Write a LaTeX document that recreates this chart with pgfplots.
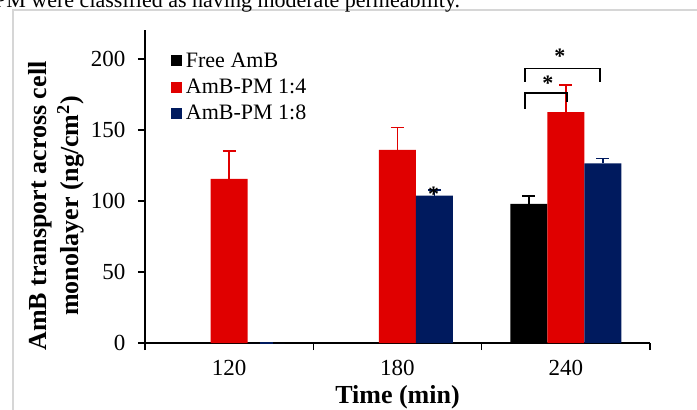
\documentclass[border=0pt]{standalone}
\usepackage{fontspec}
\setmainfont{Liberation Serif}
\usepackage{pgfplots}
\pgfplotsset{compat=1.18}
\definecolor{cred}{RGB}{224,0,0}
\definecolor{cnavy}{RGB}{0,26,94}
\definecolor{framegray}{RGB}{214,214,214}
\begin{document}
\begin{tikzpicture}
\draw[framegray, line width=2pt] (13pt,-410pt) -- (13pt,-10pt) -- (697pt,-10pt);
\node[anchor=base west, inner sep=0pt, font=\fontsize{22}{26}\selectfont] at (-6pt,-7pt) {PM were classified as having moderate permeability.};
\begin{axis}[
  at={(145pt,-343pt)}, anchor=south west,
  scale only axis, width=505pt, height=313pt,
  xmin=-0.5, xmax=2.5, ymin=0, ymax=220.4,
  axis x line=bottom, axis y line=left,
  axis line style={-, line width=1.2pt, black},
  ybar=0pt, bar width=37pt,
  xtick={-0.5,0.5,1.5,2.5}, xticklabels={},
  extra x ticks={0,1,2}, extra x tick labels={120,180,240},
  extra x tick style={major tick length=0pt, xticklabel style={yshift=-14pt}},
  ytick={0,50,100,150,200},
  yticklabel style={xshift=-9pt},
  tick align=outside, major tick length=7pt,
  tick style={line width=1.2pt, black},
  ticklabel style={font=\fontsize{23}{27}\selectfont},
  /pgf/number format/assume math mode=true,
  legend style={at={(rel axis cs:0.045,0.94)}, anchor=north west, draw=none, fill=none,
    font=\fontsize{22}{26}\selectfont, row sep=6pt, nodes={inner xsep=4pt}},
  legend cell align=left,
  legend image code/.code={\fill[#1] (0pt,-5.5pt) rectangle (11pt,5.5pt);},
  clip=false,
]
\addplot[fill=black, draw=none, error bars/.cd, y dir=plus, y explicit,
  error bar style={draw=black, line width=1.5pt},
  error mark options={rotate=90, mark size=6.5pt, line width=1.5pt, draw=black}]
  coordinates {(0,0) +- (0,0) (1,0) +- (0,0) (2,97.9) +- (0,5.6)};
\addplot[fill=cred, draw=none, error bars/.cd, y dir=plus, y explicit,
  error bar style={draw=cred, line width=1.5pt},
  error mark options={rotate=90, mark size=6.5pt, line width=1.5pt, draw=cred}]
  coordinates {(0,115.5) +- (0,19.7) (1,136) +- (0,15.9) (2,162.5) +- (0,19.2)};
\addplot[fill=cnavy, draw=none, error bars/.cd, y dir=plus, y explicit,
  error bar style={draw=cnavy, line width=1.5pt},
  error mark options={rotate=90, mark size=6.5pt, line width=1.5pt, draw=cnavy}]
  coordinates {(0,0) +- (0,0) (1,103.7) +- (0,4) (2,126.5) +- (0,3.3)};
\legend{Free AmB, AmB-PM 1:4, AmB-PM 1:8}
\draw[black, line width=1.5pt] (axis cs:1.756,164.8) -- (axis cs:1.756,176) -- (axis cs:2.006,176) -- (axis cs:2.006,170);
\draw[black, line width=1.5pt] (axis cs:1.756,183.8) -- (axis cs:1.756,193.4) -- (axis cs:2.202,193.4) -- (axis cs:2.202,183.8);
\node[font=\bfseries\fontsize{22}{22}\selectfont, inner sep=0pt] at (axis cs:1.893,183) {*};
\node[font=\bfseries\fontsize{22}{22}\selectfont, inner sep=0pt] at (axis cs:1.964,202) {*};
\node[font=\bfseries\fontsize{22}{22}\selectfont, inner sep=0pt] at (axis cs:1.214,105) {*};
\end{axis}
\node[rotate=90, align=center, font=\bfseries\fontsize{26}{32}\selectfont] at (56pt,-206pt) {AmB transport across cell\\monolayer (ng/cm\textsuperscript{2})};
\node[font=\bfseries\fontsize{26}{30}\selectfont] at (397.5pt,-397pt) {Time (min)};
\pgfresetboundingbox
\path[use as bounding box] (0pt,0pt) rectangle (697pt,-410pt);
\end{tikzpicture}
\end{document}
